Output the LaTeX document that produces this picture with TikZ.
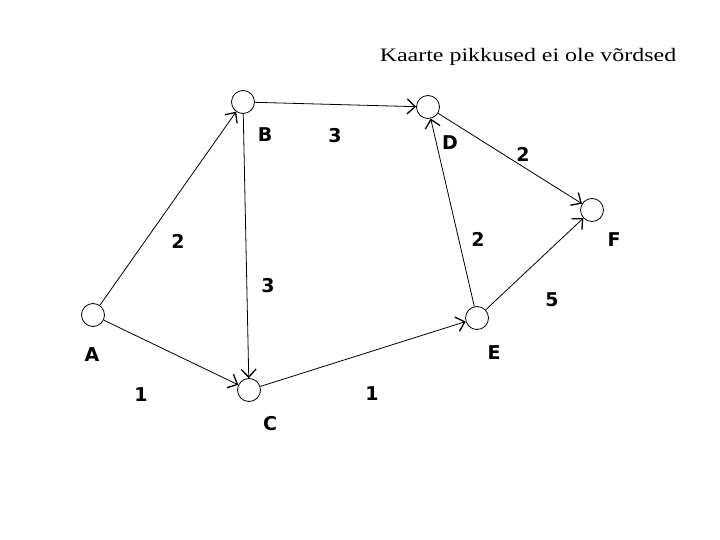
\documentclass[tikz,border=0pt]{standalone}
\usepackage{fontspec}
\setmainfont{Liberation Serif}
\newfontfamily\lblfont{DejaVu Sans}
\usetikzlibrary{arrows.meta}
\begin{document}
\begin{tikzpicture}[x=1pt,y=-1pt,
  vtx/.style={circle,draw,line width=0.8pt,minimum size=23pt,inner sep=0pt},
  lbl/.style={font=\lblfont\bfseries\fontsize{19}{19}\selectfont},
  edge/.style={draw,line width=0.8pt,-{Straight Barb[length=8pt,width=15pt,line width=1.3pt]}}]
\useasboundingbox (0,0) rectangle (720,540);
\node[font=\fontsize{19}{19}\selectfont] (title) at (528,57) {\scalebox{1.26}[1]{Kaarte pikkused ei ole võrdsed}};
\node[vtx] (A) at (93,315) {};
\node[vtx] (B) at (243,102) {};
\node[vtx] (C) at (249,390) {};
\node[vtx] (D) at (428,107) {};
\node[vtx] (E) at (477,318) {};
\node[vtx] (F) at (592,210) {};
\draw[edge] (A) -- (B);
\draw[edge] (A) -- (C);
\draw[edge] (B) -- (C);
\draw[edge] (B) -- (D);
\draw[edge] (C) -- (E);
\draw[edge] (E) -- (D);
\draw[edge] (D) -- (F);
\draw[edge] (E) -- (F);
\node[lbl] (lA) at (92,355) {A};
\node[lbl] (lB) at (265,135) {B};
\node[lbl] (lC) at (270,424) {C};
\node[lbl] (lD) at (450,143) {D};
\node[lbl] (lE) at (494,353) {E};
\node[lbl] (lF) at (614,240) {F};
\node[lbl] (wAB) at (178,241) {2};
\node[lbl] (wBC) at (268,286) {3};
\node[lbl] (wBD) at (335,136) {3};
\node[lbl] (wDF) at (523,154) {2};
\node[lbl] (wED) at (478,239) {2};
\node[lbl] (wEF) at (552,300) {5};
\node[lbl] (wAC) at (141,395) {1};
\node[lbl] (wCE) at (372,394) {1};
\end{tikzpicture}
\end{document}
